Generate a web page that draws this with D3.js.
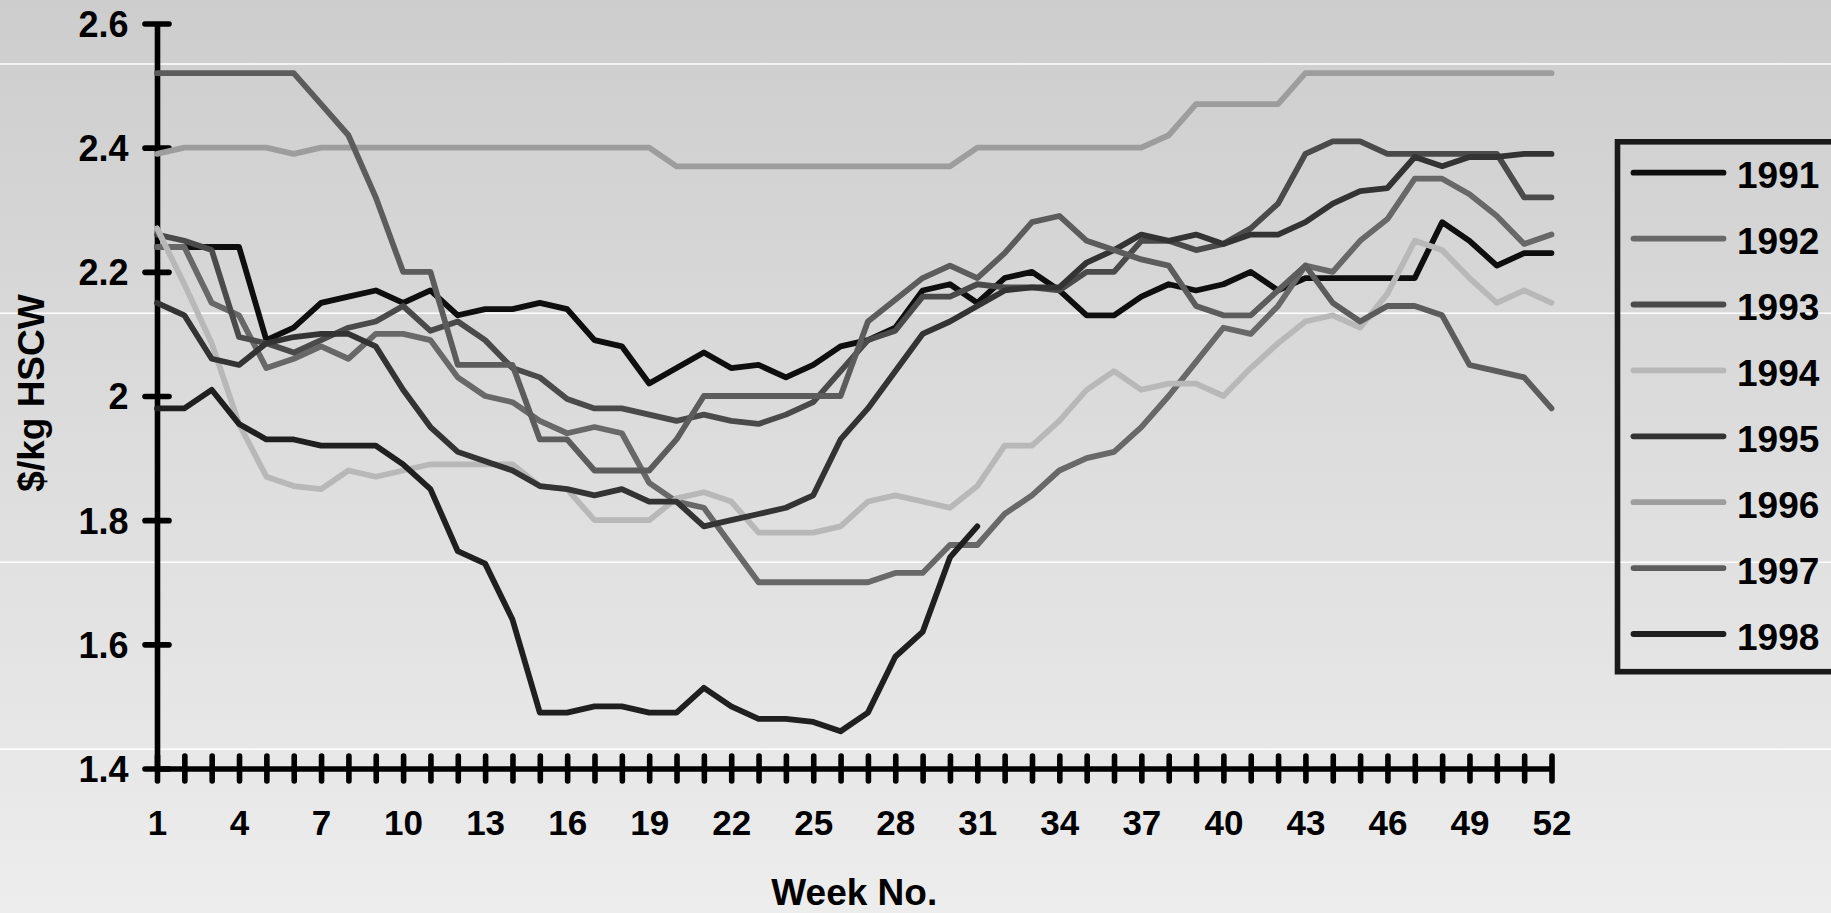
<!DOCTYPE html>
<html>
<head>
<meta charset="utf-8">
<script src="https://cdn.jsdelivr.net/npm/d3@7"></script>
<style>
  html, body { margin: 0; padding: 0; overflow: hidden; background: #e0e0e0; }
  svg { display: block; font-family: "Liberation Sans", Arial, sans-serif; font-weight: bold; }
</style>
</head>
<body>
<svg id="chart" width="1831" height="913"></svg>
<script>
// Weekly pig prices, $/kg hot standard carcase weight, 1991-1998
const weeks = d3.range(1, 53);
const years = ["1991", "1992", "1993", "1994", "1995", "1996", "1997", "1998"];
const yearColors = ["#0e0e0e", "#686868", "#4a4a4a", "#b8b8b8", "#333333", "#9d9d9d", "#5c5c5c", "#1f1f1f"];
const yTicks = [1.4, 1.6, 1.8, 2.0, 2.2, 2.4, 2.6];
const xLabelWeeks = d3.range(1, 53, 3);

const p1991 = [2.24,2.24,2.24,2.24,2.09,2.11,2.15,2.16,2.17,2.15, 2.17,2.13,2.14,2.14,2.15,2.14,2.09,2.08,2.02,2.045,
               2.07,2.045,2.05,2.03,2.05,2.08,2.09,2.11,2.17,2.18, 2.15,2.19,2.20,2.17,2.13,2.13,2.16,2.18,2.17,2.18,
               2.20,2.17,2.19,2.19,2.19,2.19,2.19,2.28,2.25,2.21, 2.23,2.23];
const p1992 = [2.24,2.24,2.15,2.13,2.045,2.06,2.08,2.06,2.10,2.10, 2.09,2.03,2.00,1.99,1.96,1.94,1.95,1.94,1.86,1.83,
               1.82,1.76,1.70,1.70,1.70,1.70,1.70,1.715,1.715,1.76, 1.76,1.81,1.84,1.88,1.90,1.91,1.95,2.00,2.055,2.11,
               2.10,2.145,2.21,2.20,2.25,2.285,2.35,2.35,2.325,2.29, 2.245,2.26];
const p1993 = [2.26,2.25,2.235,2.095,2.085,2.07,2.09,2.11,2.12,2.145, 2.105,2.12,2.09,2.045,2.03,1.995,1.98,1.98,1.97,1.96,
               1.97,1.96,1.955,1.97,1.99,2.04,2.09,2.105,2.16,2.16, 2.18,2.175,2.175,2.17,2.20,2.20,2.25,2.25,2.235,2.245,
               2.27,2.31,2.39,2.41,2.41,2.39,2.39,2.39,2.39,2.39, 2.32,2.32];
const p1994 = [2.27,2.18,2.085,1.955,1.87,1.855,1.85,1.88,1.87,1.88, 1.89,1.89,1.89,1.89,1.855,1.85,1.80,1.80,1.80,1.835,
               1.845,1.83,1.78,1.78,1.78,1.79,1.83,1.84,1.83,1.82, 1.855,1.92,1.92,1.96,2.01,2.04,2.01,2.02,2.02,2.00,
               2.045,2.085,2.12,2.13,2.11,2.165,2.25,2.235,2.19,2.15, 2.17,2.15];
const p1995 = [2.15,2.13,2.06,2.05,2.085,2.095,2.10,2.10,2.08,2.01, 1.95,1.91,1.895,1.88,1.855,1.85,1.84,1.85,1.83,1.83,
               1.79,1.80,1.81,1.82,1.84,1.93,1.98,2.04,2.10,2.12, 2.145,2.17,2.175,2.175,2.215,2.235,2.26,2.25,2.26,2.245,
               2.26,2.26,2.28,2.31,2.33,2.335,2.385,2.37,2.385,2.385, 2.39,2.39];
const p1996 = [2.39,2.40,2.40,2.40,2.40,2.39,2.40,2.40,2.40,2.40, 2.40,2.40,2.40,2.40,2.40,2.40,2.40,2.40,2.40,2.37,
               2.37,2.37,2.37,2.37,2.37,2.37,2.37,2.37,2.37,2.37, 2.40,2.40,2.40,2.40,2.40,2.40,2.40,2.42,2.47,2.47,
               2.47,2.47,2.52,2.52,2.52,2.52,2.52,2.52,2.52,2.52, 2.52,2.52];
const p1997 = [2.52,2.52,2.52,2.52,2.52,2.52,2.47,2.42,2.32,2.20, 2.20,2.05,2.05,2.05,1.93,1.93,1.88,1.88,1.88,1.93,
               2.00,2.00,2.00,2.00,2.00,2.00,2.12,2.155,2.19,2.21, 2.19,2.23,2.28,2.29,2.25,2.235,2.22,2.21,2.145,2.13,
               2.13,2.17,2.21,2.15,2.12,2.145,2.145,2.13,2.05,2.04, 2.03,1.98];
// 1998 runs to week 31 only
const p1998 = [1.98,1.98,2.01,1.955,1.93,1.93,1.92,1.92,1.92,1.89, 1.85,1.75,1.73,1.64,1.49,1.49,1.50,1.50,1.49,1.49,
               1.53,1.50,1.48,1.48,1.475,1.46,1.49,1.58,1.62,1.74, 1.79];

const seriesValues = [p1991, p1992, p1993, p1994, p1995, p1996, p1997, p1998];

const W = 1831, H = 913;
const svg = d3.select("#chart");

// background: soft vertical grey gradient with faint light bands
const defs = svg.append("defs");
const grad = defs.append("linearGradient").attr("id", "bg").attr("x1", 0).attr("y1", 0).attr("x2", 0).attr("y2", 1);
grad.append("stop").attr("offset", "0%").attr("stop-color", "#cdcdcd");
grad.append("stop").attr("offset", "100%").attr("stop-color", "#ededed");
svg.append("rect").attr("width", W).attr("height", H).attr("fill", "url(#bg)");
svg.append("g").selectAll("line").data([64, 313.3, 562.3, 749.3]).join("line")
  .attr("x1", 0).attr("x2", W).attr("y1", d => d).attr("y2", d => d)
  .attr("stroke", "#ffffff").attr("stroke-width", 1.6);

const x = d3.scaleLinear().domain([1, 52]).range([157, 1551.5]);
const y = d3.scaleLinear().domain([1.4, 2.6]).range([768.5, 23.5]);

const axisStroke = 5.6;

// y axis
const gy = svg.append("g").attr("transform", `translate(${x(1)},0)`)
  .call(d3.axisLeft(y).tickValues(yTicks).tickSizeOuter(0)
        .tickFormat(d => String(+d.toFixed(1))));
gy.select(".domain").attr("stroke", "#000").attr("stroke-width", axisStroke);
gy.selectAll(".tick line").attr("x1", -12).attr("x2", 12)
  .attr("stroke", "#000").attr("stroke-width", axisStroke).attr("stroke-linecap", "round");
gy.selectAll(".tick text").attr("x", -28.5).attr("dy", "0.36em")
  .attr("fill", "#000").style("font-size", "36px").style("font-family", "'Liberation Sans', Arial, sans-serif")
  .style("font-weight", "bold");

// x axis
const gx = svg.append("g").attr("transform", `translate(0,${y(1.4)})`)
  .call(d3.axisBottom(x).tickValues(weeks).tickSizeOuter(0)
        .tickFormat(d => xLabelWeeks.includes(d) ? String(d) : ""));
gx.select(".domain").attr("stroke", "#000").attr("stroke-width", axisStroke);
gx.selectAll(".tick line").attr("y1", -12.5).attr("y2", 12.5)
  .attr("stroke", "#000").attr("stroke-width", axisStroke).attr("stroke-linecap", "round");
gx.selectAll(".tick text").attr("y", 66.5).attr("dy", null)
  .attr("fill", "#000").style("font-size", "35px").style("font-family", "'Liberation Sans', Arial, sans-serif")
  .style("font-weight", "bold");

// axis titles
svg.append("text").attr("x", (x(1) + x(52)) / 2).attr("y", 905)
  .attr("text-anchor", "middle").style("font-size", "37px").text("Week No.");
svg.append("text").attr("transform", "translate(43.5,393) rotate(-90)")
  .attr("text-anchor", "middle").style("font-size", "37px").text("$/kg HSCW");

// series lines
const line = d3.line()
  .defined(d => d.v != null)
  .x(d => x(d.w))
  .y(d => y(d.v));

const series = years.map((yr, i) => ({
  year: yr,
  color: yearColors[i],
  points: weeks.map((w, j) => ({ w, v: seriesValues[i][j] === undefined ? null : seriesValues[i][j] }))
}));

svg.append("g").selectAll("path").data(series).join("path")
  .attr("d", d => line(d.points))
  .attr("fill", "none")
  .attr("stroke", d => d.color)
  .attr("stroke-width", 5.8)
  .attr("stroke-linecap", "round")
  .attr("stroke-linejoin", "round");

// legend
const legend = svg.append("g");
legend.append("rect").attr("x", 1617.5).attr("y", 141.8).attr("width", 240).attr("height", 529.9)
  .attr("fill", "none").attr("stroke", "#1a1a1a").attr("stroke-width", 5.6);
const rowY = i => 172.7 + i * 65.9;
const items = legend.selectAll("g.item").data(series).join("g").attr("class", "item");
items.append("line")
  .attr("x1", 1633.5).attr("x2", 1723.5)
  .attr("y1", (d, i) => rowY(i)).attr("y2", (d, i) => rowY(i))
  .attr("stroke", d => d.color).attr("stroke-width", 5.8).attr("stroke-linecap", "round");
items.append("text")
  .attr("x", 1737).attr("y", (d, i) => rowY(i) + 15.5)
  .style("font-size", "37px").attr("fill", "#000")
  .text(d => d.year);
</script>
</body>
</html>
